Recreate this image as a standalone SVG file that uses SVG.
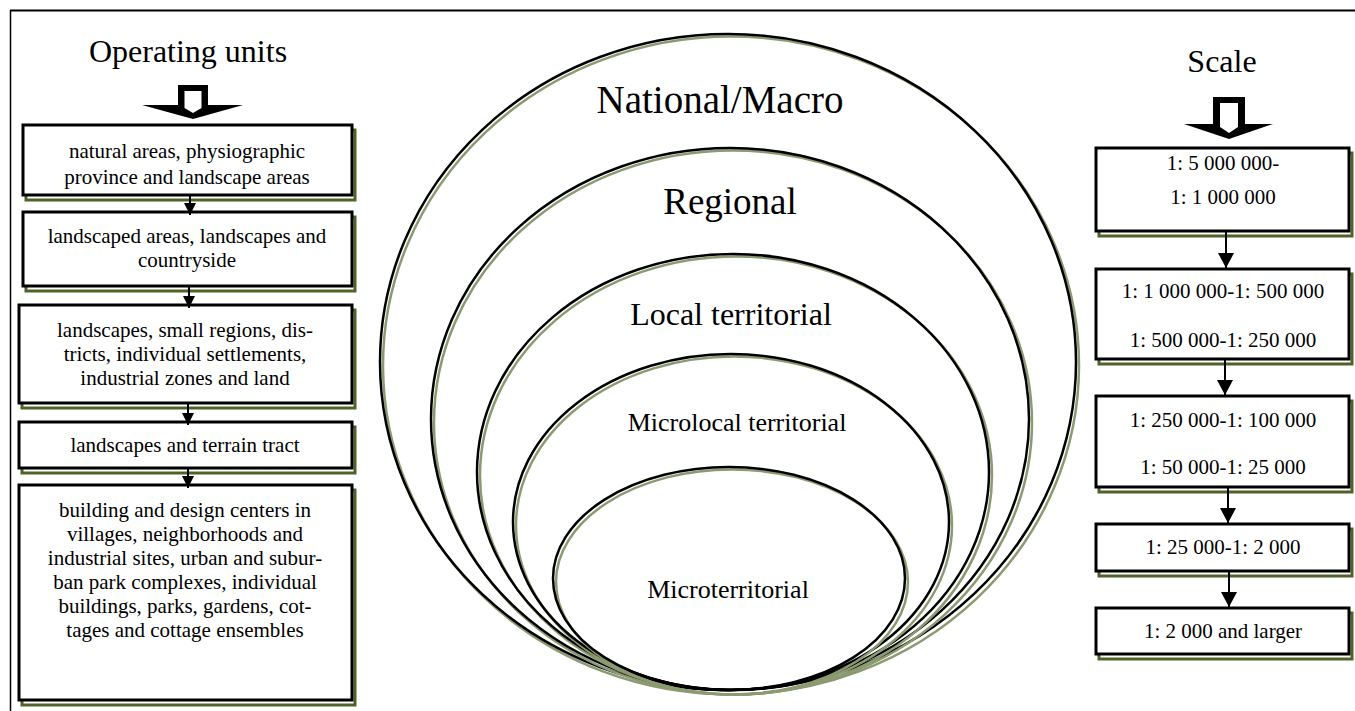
<svg xmlns="http://www.w3.org/2000/svg" width="1355" height="711" viewBox="0 0 1355 711">
<style>
  .t { font-family: "Liberation Serif", "Times New Roman", serif; fill: #000; text-anchor: middle; }
  .box { font-size: 21px; }
  .bk { fill: #fff; stroke: #000; stroke-width: 3; }
  .gr { fill: none; stroke: #4f6228; stroke-width: 3; }
  .eb { fill: none; stroke: #000; stroke-width: 2.5; }
  .eg { fill: none; stroke: #8c9a72; stroke-width: 2.5; }
  .conn { stroke: #000; stroke-width: 2; fill: none; }
</style>
<defs>
  <marker id="ahL" markerWidth="12" markerHeight="12" refX="12" refY="6" orient="auto" markerUnits="userSpaceOnUse">
    <path d="M0,0 L12,6 L0,12 Z" fill="#000"/>
  </marker>
  <marker id="ahR" markerWidth="15" markerHeight="16" refX="15" refY="8" orient="auto" markerUnits="userSpaceOnUse">
    <path d="M0,0 L15,8 L0,16 Z" fill="#000"/>
  </marker>
</defs>
<rect width="1355" height="711" fill="#fff"/>
<g id="frame">
  <line x1="10" y1="10.5" x2="1355" y2="10.5" stroke="#000" stroke-width="2"/>
  <line x1="10.5" y1="10" x2="10.5" y2="711" stroke="#000" stroke-width="1.5"/>
</g>

<g id="headers">
  <text class="t" x="188" y="62" font-size="32">Operating units</text>
  <g id="arrow-left">
    <path d="M178,85 H208 V105 H243 L193,119 L142,105 H178 Z" fill="#000"/>
    <path d="M184.5,91 H201.5 V108 L193,113 L184.5,108 Z" fill="#fff"/>
  </g>
  <text class="t" x="1222" y="72" font-size="32">Scale</text>
  <g id="arrow-right">
    <path d="M1213,97 H1245 V124 H1273 L1229,139 L1184,124 H1213 Z" fill="#000"/>
    <path d="M1220,103 H1238 V127 L1229,133 L1220,127 Z" fill="#fff"/>
  </g>
</g>

<g id="ellipses">
  <g id="national">
    <ellipse class="eg" cx="731" cy="365.5" rx="348" ry="329"/>
    <ellipse class="eb" cx="728" cy="362" rx="348" ry="328"/>
    <text class="t" x="720" y="113" font-size="39">National/Macro</text>
  </g>
  <g id="regional">
    <ellipse class="eg" cx="733" cy="422.5" rx="299" ry="272"/>
    <ellipse class="eb" cx="730" cy="419" rx="299" ry="271"/>
    <text class="t" x="730" y="214" font-size="37">Regional</text>
  </g>
  <g id="local">
    <ellipse class="eg" cx="736" cy="475.5" rx="256" ry="219"/>
    <ellipse class="eb" cx="733" cy="472" rx="256" ry="218"/>
    <text class="t" x="731" y="325" font-size="32">Local territorial</text>
  </g>
  <g id="microlocal">
    <ellipse class="eg" cx="734" cy="525.5" rx="218" ry="169"/>
    <ellipse class="eb" cx="731" cy="522" rx="218" ry="168"/>
    <text class="t" x="737" y="431" font-size="26">Microlocal territorial</text>
  </g>
  <g id="micro">
    <ellipse class="eg" cx="732" cy="582" rx="176" ry="112.5"/>
    <ellipse class="eb" cx="729" cy="578.5" rx="176" ry="111.5"/>
    <text class="t" x="728" y="598" font-size="26">Microterritorial</text>
  </g>
</g>

<g id="left-boxes">
  <g id="L1">
    <rect class="gr" x="26" y="130" width="329" height="70"/>
    <rect class="bk" x="23" y="125" width="329" height="70"/>
    <text class="t box" x="187" y="158">natural areas, physiographic</text>
    <text class="t box" x="187" y="184">province and landscape areas</text>
  </g>
  <g id="L2">
    <rect class="gr" x="26" y="217" width="329" height="74"/>
    <rect class="bk" x="23" y="212" width="329" height="74"/>
    <text class="t box" x="187" y="243">landscaped areas, landscapes and</text>
    <text class="t box" x="187" y="267">countryside</text>
  </g>
  <g id="L3">
    <rect class="gr" x="22" y="310" width="333" height="98"/>
    <rect class="bk" x="19" y="305" width="333" height="98"/>
    <text class="t box" x="185" y="337">landscapes, small regions, dis-</text>
    <text class="t box" x="185" y="361">tricts, individual settlements,</text>
    <text class="t box" x="185" y="385">industrial zones and land</text>
  </g>
  <g id="L4">
    <rect class="gr" x="22" y="427" width="333" height="46"/>
    <rect class="bk" x="19" y="422" width="333" height="46"/>
    <text class="t box" x="185" y="452">landscapes and terrain tract</text>
  </g>
  <g id="L5">
    <rect class="gr" x="22" y="490" width="333" height="215"/>
    <rect class="bk" x="19" y="485" width="333" height="215"/>
    <text class="t box" x="185" y="517">building and design centers in</text>
    <text class="t box" x="185" y="541">villages, neighborhoods and</text>
    <text class="t box" x="185" y="565">industrial sites, urban and subur-</text>
    <text class="t box" x="185" y="589">ban park complexes, individual</text>
    <text class="t box" x="185" y="613">buildings, parks, gardens, cot-</text>
    <text class="t box" x="185" y="637">tages and cottage ensembles</text>
  </g>
</g>

<g id="right-boxes">
  <g id="R1">
    <rect class="gr" x="1099" y="153" width="253" height="83"/>
    <rect class="bk" x="1096" y="148" width="253" height="83"/>
    <text class="t box" x="1223" y="170">1: 5 000 000-</text>
    <text class="t box" x="1223" y="204">1: 1 000 000</text>
  </g>
  <g id="R2">
    <rect class="gr" x="1099" y="274" width="253" height="90"/>
    <rect class="bk" x="1096" y="269" width="253" height="90"/>
    <text class="t box" x="1223" y="298">1: 1 000 000-1: 500 000</text>
    <text class="t box" x="1223" y="347">1: 500 000-1: 250 000</text>
  </g>
  <g id="R3">
    <rect class="gr" x="1099" y="401" width="253" height="91"/>
    <rect class="bk" x="1096" y="396" width="253" height="91"/>
    <text class="t box" x="1223" y="427">1: 250 000-1: 100 000</text>
    <text class="t box" x="1223" y="474">1: 50 000-1: 25 000</text>
  </g>
  <g id="R4">
    <rect class="gr" x="1099" y="529" width="253" height="47"/>
    <rect class="bk" x="1096" y="524" width="253" height="47"/>
    <text class="t box" x="1223" y="554">1: 25 000-1: 2 000</text>
  </g>
  <g id="R5">
    <rect class="gr" x="1099" y="613" width="253" height="46"/>
    <rect class="bk" x="1096" y="608" width="253" height="46"/>
    <text class="t box" x="1223" y="638">1: 2 000 and larger</text>
  </g>
</g>

<g id="connectors">
  <line class="conn" x1="190" y1="196" x2="190" y2="215" marker-end="url(#ahL)"/>
  <line class="conn" x1="189" y1="287" x2="189" y2="308" marker-end="url(#ahL)"/>
  <line class="conn" x1="188" y1="404" x2="188" y2="425" marker-end="url(#ahL)"/>
  <line class="conn" x1="188" y1="469" x2="188" y2="488" marker-end="url(#ahL)"/>
  <line class="conn" x1="1226" y1="232" x2="1226" y2="268" marker-end="url(#ahR)"/>
  <line class="conn" x1="1225" y1="360" x2="1225" y2="395" marker-end="url(#ahR)"/>
  <line class="conn" x1="1228" y1="488" x2="1228" y2="523" marker-end="url(#ahR)"/>
  <line class="conn" x1="1229" y1="572" x2="1229" y2="607" marker-end="url(#ahR)"/>
</g>
</svg>
